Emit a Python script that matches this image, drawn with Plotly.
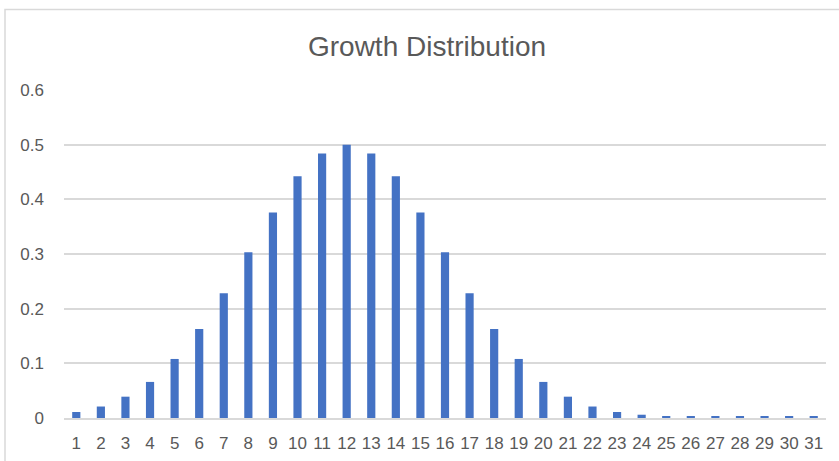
import plotly.graph_objects as go

# Growth distribution by category
categories = [str(i) for i in range(1, 32)]
growth = [0.011, 0.021, 0.039, 0.066, 0.108, 0.163, 0.228, 0.303, 0.376, 0.442,
          0.484, 0.500, 0.484, 0.442, 0.376, 0.303, 0.228, 0.163, 0.108, 0.066,
          0.039, 0.021, 0.011, 0.006, 0.003, 0.003, 0.003, 0.003, 0.003, 0.003,
          0.003]
y_ticks = [0, 0.1, 0.2, 0.3, 0.4, 0.5, 0.6]

W, H = 839, 461
L, R, T, B = 64, 13, 90, 43
pw, ph = W - L - R, H - T - B

def px_to_paper_x(px):
    return (px - L) / pw

def px_to_paper_y(py):
    return (H - B - py) / ph

FONT = "Liberation Sans, Arial, sans-serif"
GREY = "#595959"

fig = go.Figure(go.Bar(
    x=categories,
    y=growth,
    marker=dict(color="#4472C4", line=dict(width=0)),
))

fig.update_layout(
    width=W, height=H,
    margin=dict(l=L, r=R, t=T, b=B, pad=0, autoexpand=False),
    paper_bgcolor="white",
    plot_bgcolor="white",
    bargap=0.667,
    showlegend=False,
    title=dict(
        text="Growth Distribution",
        x=427 / W,
        xanchor="center",
        y=1 - 46 / H,
        yanchor="middle",
        font=dict(family=FONT, size=28, color=GREY),
    ),
    font=dict(family=FONT, color=GREY),
    xaxis=dict(
        type="category",
        automargin=False,
        showgrid=False,
        showline=True,
        linecolor="#d9d9d9",
        linewidth=1.5,
        ticks="",
        tickfont=dict(size=17, color=GREY),
        ticklabelstandoff=9,
        zeroline=False,
    ),
    yaxis=dict(
        range=[0, 0.6],
        automargin=False,
        tickvals=y_ticks,
        ticktext=[f"{v:g}" for v in y_ticks],
        showgrid=True,
        gridcolor="#d9d9d9",
        gridwidth=1.5,
        zeroline=False,
        showline=False,
        ticks="",
        tickfont=dict(size=17, color=GREY),
        ticklabelstandoff=19,
    ),
    shapes=[
        dict(
            type="rect", xref="paper", yref="paper",
            x0=px_to_paper_x(5), x1=px_to_paper_x(860),
            y0=px_to_paper_y(480), y1=px_to_paper_y(9.5),
            line=dict(color="#d9d9d9", width=1.5),
            fillcolor="rgba(0,0,0,0)",
            layer="below",
        )
    ],
)

fig.write_html("out.html")
